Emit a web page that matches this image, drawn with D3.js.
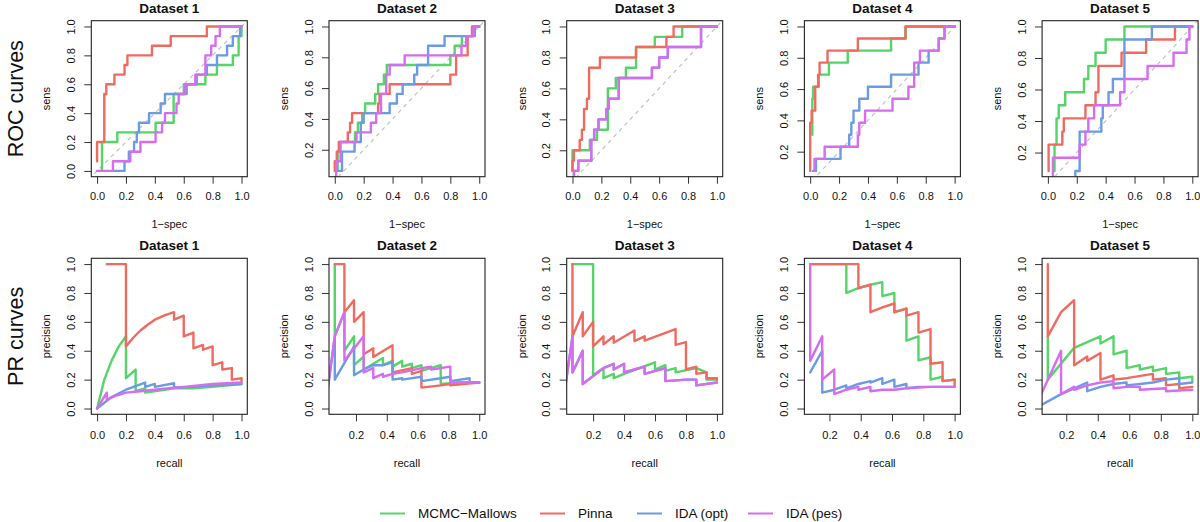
<!DOCTYPE html>
<html><head><meta charset="utf-8">
<script src="https://cdn.jsdelivr.net/npm/d3@7"></script>
<style>body{margin:0;background:#fff} svg{display:block} text{font-family:"Liberation Sans",Arial,Helvetica,sans-serif}</style>
</head><body><svg id="c" width="1200" height="522"></svg>
<script>
// ---------------- data ----------------
const methods = ["MCMC\u2212Mallows", "Pinna", "IDA (opt)", "IDA (pes)"];
const colors = ["#55D468", "#EF6B5F", "#6C9BE6", "#D66CF0"];
const datasetNames = ["Dataset 1", "Dataset 2", "Dataset 3", "Dataset 4", "Dataset 5"];
const rowLabels = ["ROC curves", "PR curves"];
const rocAxisLabels = ["1\u2212spec", "sens"];
const prAxisLabels = ["recall", "precision"];
// lower data limit of sens (ROC) / recall (PR) per dataset
const dataMin = [0, 1/16, 1/15, 1/13, 1/12];
const ticksFull = [0, 0.2, 0.4, 0.6, 0.8, 1.0];
const ticksFrom02 = [0.2, 0.4, 0.6, 0.8, 1.0];

// ROC curves: step corners [1-spec, sens]
const roc1Mcmc = [[0.034,0],[0.034,0.2],[0.14,0.267],[0.405,0.333],[0.53,0.533],[0.6,0.6],[0.75,0.667],[0.83,0.733],[0.94,0.8],[0.98,0.933],[1,1]];
const roc1Pinna = [[0,0.067],[0,0.2],[0.05,0.533],[0.064,0.6],[0.12,0.667],[0.19,0.733],[0.21,0.8],[0.38,0.867],[0.51,0.933],[0.76,1],[1,1]];
const roc1IdaOpt = [[0.11,0],[0.19,0.067],[0.22,0.133],[0.256,0.2],[0.275,0.267],[0.29,0.333],[0.36,0.4],[0.44,0.467],[0.47,0.533],[0.62,0.6],[0.69,0.667],[0.76,0.733],[0.83,0.8],[0.9,0.867],[0.94,0.933],[0.99,1],[1,1]];
const roc1IdaPes = [[0,0],[0.11,0.067],[0.23,0.133],[0.3,0.2],[0.405,0.267],[0.45,0.333],[0.47,0.4],[0.55,0.467],[0.565,0.533],[0.61,0.6],[0.68,0.667],[0.75,0.8],[0.79,0.867],[0.82,0.933],[0.85,1],[1,1]];

const roc2Mcmc = [[0.02,0.0625],[0.02,0.1875],[0.035,0.25],[0.14,0.3125],[0.16,0.375],[0.19,0.4375],[0.21,0.5],[0.28,0.5625],[0.3,0.625],[0.34,0.6875],[0.36,0.75],[0.8,0.8125],[0.83,0.875],[0.88,0.9375],[0.96,1],[1,1]];
const roc2Pinna = [[0,0.0625],[0,0.125],[0.014,0.1875],[0.028,0.25],[0.09,0.3125],[0.106,0.375],[0.12,0.4375],[0.3,0.5],[0.31,0.5625],[0.38,0.625],[0.8,0.6875],[0.84,0.8125],[0.92,0.9375],[0.95,1],[1,1]];
const roc2IdaOpt = [[0.01,0.0625],[0.05,0.1875],[0.137,0.25],[0.18,0.375],[0.2,0.4375],[0.38,0.5],[0.43,0.5625],[0.47,0.625],[0.55,0.6875],[0.57,0.75],[0.646,0.875],[0.76,0.9375],[0.97,1],[1,1]];
const roc2IdaPes = [[0.01,0],[0.01,0.125],[0.04,0.25],[0.15,0.3125],[0.25,0.375],[0.287,0.4375],[0.32,0.5625],[0.356,0.6875],[0.38,0.75],[0.484,0.8125],[0.877,0.875],[0.91,0.9375],[0.96,1],[1,1]];

const roc3Mcmc = [[0,0.0667],[0,0.2],[0.12,0.267],[0.17,0.333],[0.245,0.6],[0.3,0.667],[0.37,0.733],[0.44,0.867],[0.57,0.933],[0.76,1],[1,1]];
const roc3Pinna = [[0,0.0667],[0,0.133],[0.01,0.2],[0.05,0.267],[0.065,0.333],[0.08,0.467],[0.1,0.533],[0.115,0.733],[0.19,0.8],[0.44,0.867],[0.65,0.933],[0.7,1],[1,1]];
const roc3IdaOpt = [[0.01,0],[0.01,0.0667],[0.04,0.133],[0.13,0.267],[0.15,0.333],[0.18,0.4],[0.235,0.467],[0.25,0.533],[0.32,0.667],[0.55,0.733],[0.6,0.8],[0.66,0.867],[0.89,1],[1,1]];
const roc3IdaPes = [[0.01,0],[0.01,0.0667],[0.04,0.133],[0.13,0.267],[0.15,0.333],[0.18,0.4],[0.235,0.467],[0.25,0.533],[0.32,0.667],[0.55,0.733],[0.6,0.8],[0.66,0.867],[0.89,1],[1,1]];

const roc4Mcmc = [[0.015,0.308],[0.015,0.538],[0.02,0.615],[0.06,0.692],[0.13,0.769],[0.26,0.846],[0.56,0.923],[0.66,1],[1,1]];
const roc4Pinna = [[0,0.077],[0,0.385],[0.01,0.462],[0.035,0.615],[0.055,0.692],[0.065,0.769],[0.12,0.846],[0.33,0.923],[0.66,1],[1,1]];
const roc4IdaOpt = [[0.02,0.077],[0.04,0.154],[0.21,0.231],[0.27,0.308],[0.285,0.385],[0.3,0.462],[0.34,0.538],[0.4,0.615],[0.56,0.692],[0.75,0.769],[0.82,0.846],[0.89,0.923],[0.93,1],[1,1]];
const roc4IdaPes = [[0.03,0.077],[0.03,0.154],[0.1,0.231],[0.33,0.308],[0.34,0.385],[0.38,0.462],[0.57,0.538],[0.68,0.615],[0.72,0.769],[0.76,0.846],[0.89,0.923],[0.93,1],[1,1]];

const roc5Mcmc = [[0.046,0.083],[0.046,0.25],[0.06,0.417],[0.075,0.5],[0.12,0.583],[0.25,0.667],[0.28,0.75],[0.33,0.833],[0.4,0.917],[0.53,1],[1,1]];
const roc5Pinna = [[0.005,0.083],[0.005,0.25],[0.1,0.333],[0.11,0.417],[0.26,0.5],[0.33,0.583],[0.35,0.75],[0.51,0.833],[0.68,0.917],[0.88,1],[1,1]];
const roc5IdaOpt = [[0.19,0],[0.19,0.083],[0.22,0.333],[0.37,0.417],[0.38,0.5],[0.42,0.583],[0.45,0.667],[0.53,0.917],[0.72,1],[1,1]];
const roc5IdaPes = [[0.035,0],[0.035,0.167],[0.22,0.25],[0.26,0.333],[0.28,0.417],[0.32,0.5],[0.5,0.583],[0.53,0.667],[0.69,0.75],[0.87,0.833],[0.96,0.917],[0.98,1],[1,1]];

// PR curves: vertices [recall, precision]
const pr1Mcmc = [[0,0],[0.05,0.2],[0.1,0.33],[0.15,0.43],[0.2,0.5],[0.2,0.21],[0.267,0.27],[0.267,0.12],[0.333,0.14],[0.333,0.11],[0.467,0.13],[0.533,0.14],[0.667,0.14],[0.8,0.15],[1,0.17]];
const pr1Pinna = [[0.067,1],[0.2,1],[0.2,0.43],[0.25,0.49],[0.3,0.54],[0.35,0.58],[0.4,0.615],[0.467,0.645],[0.533,0.667],[0.533,0.615],[0.6,0.643],[0.6,0.5],[0.667,0.526],[0.667,0.417],[0.733,0.44],[0.733,0.407],[0.8,0.43],[0.8,0.3],[0.867,0.32],[0.867,0.27],[0.933,0.28],[0.933,0.2],[1,0.21],[1,0.19]];
const pr1IdaOpt = [[0,0],[0.1,0.08],[0.2,0.13],[0.333,0.18],[0.333,0.15],[0.4,0.17],[0.4,0.15],[0.533,0.175],[0.533,0.145],[0.667,0.15],[0.8,0.16],[1,0.17]];
const pr1IdaPes = [[0,0],[0.067,0.11],[0.067,0.06],[0.133,0.09],[0.2,0.11],[0.3,0.12],[0.4,0.13],[0.5,0.14],[0.6,0.15],[0.7,0.16],[0.8,0.17],[0.9,0.175],[1,0.18]];

const pr2Mcmc = [[0.0625,1],[0.0625,0.5],[0.125,0.667],[0.125,0.4],[0.1875,0.5],[0.1875,0.3],[0.25,0.36],[0.25,0.27],[0.3125,0.31],[0.375,0.35],[0.375,0.3],[0.4375,0.33],[0.4375,0.29],[0.5,0.33],[0.5,0.29],[0.5625,0.31],[0.5625,0.28],[0.625,0.3],[0.625,0.26],[0.75,0.3],[0.75,0.17],[0.875,0.18],[1,0.18]];
const pr2Pinna = [[0.0625,1],[0.125,1],[0.125,0.667],[0.1875,0.75],[0.1875,0.6],[0.25,0.667],[0.25,0.375],[0.3125,0.417],[0.3125,0.357],[0.4375,0.4375],[0.4375,0.25],[0.5625,0.28],[0.5625,0.24],[0.625,0.26],[0.625,0.145],[0.75,0.16],[0.8125,0.17],[0.8125,0.16],[1,0.18]];
const pr2IdaOpt = [[0,0],[0.0625,0.5],[0.0625,0.2],[0.1875,0.43],[0.1875,0.23],[0.25,0.27],[0.3125,0.3],[0.375,0.3],[0.4375,0.32],[0.4375,0.2],[0.5,0.21],[0.5,0.2],[0.625,0.22],[0.625,0.19],[0.75,0.21],[0.8125,0.22],[0.8125,0.19],[0.9375,0.21],[0.9375,0.18],[1,0.18]];
const pr2IdaPes = [[0,0],[0.0625,0.5],[0.125,0.667],[0.125,0.33],[0.25,0.5],[0.25,0.25],[0.3125,0.28],[0.3125,0.21],[0.375,0.24],[0.375,0.22],[0.4375,0.24],[0.5,0.25],[0.625,0.28],[0.6875,0.29],[0.6875,0.27],[0.8125,0.29],[0.8125,0.18],[1,0.18]];

const pr3Mcmc = [[0.0667,1],[0.2,1],[0.2,0.23],[0.267,0.28],[0.267,0.21],[0.333,0.24],[0.333,0.21],[0.4,0.24],[0.6,0.32],[0.6,0.27],[0.667,0.3],[0.667,0.26],[0.733,0.28],[0.733,0.25],[0.867,0.28],[0.933,0.25],[0.933,0.2],[1,0.2]];
const pr3Pinna = [[0.0667,1],[0.0667,0.5],[0.133,0.667],[0.133,0.5],[0.2,0.6],[0.2,0.43],[0.267,0.5],[0.267,0.444],[0.333,0.5],[0.333,0.455],[0.467,0.54],[0.467,0.467],[0.533,0.5],[0.533,0.47],[0.733,0.55],[0.733,0.44],[0.8,0.46],[0.8,0.27],[0.867,0.29],[0.867,0.24],[0.933,0.25],[0.933,0.21],[1,0.21],[1,0.2]];
const pr3IdaOpt = [[0,0],[0.0667,0.5],[0.0667,0.25],[0.133,0.4],[0.133,0.17],[0.267,0.28],[0.333,0.31],[0.333,0.27],[0.4,0.31],[0.4,0.25],[0.467,0.27],[0.533,0.29],[0.533,0.24],[0.667,0.28],[0.667,0.19],[0.8,0.2],[0.867,0.2],[0.867,0.16],[1,0.18]];
const pr3IdaPes = [[0,0],[0.0667,0.5],[0.0667,0.25],[0.133,0.4],[0.133,0.17],[0.267,0.28],[0.333,0.31],[0.333,0.27],[0.4,0.31],[0.4,0.25],[0.467,0.27],[0.533,0.29],[0.533,0.24],[0.667,0.28],[0.667,0.19],[0.8,0.2],[0.867,0.2],[0.867,0.16],[1,0.18]];

const pr4Mcmc = [[0.077,1],[0.308,1],[0.308,0.8],[0.385,0.833],[0.462,0.857],[0.538,0.875],[0.538,0.778],[0.615,0.8],[0.615,0.667],[0.692,0.692],[0.692,0.47],[0.769,0.5],[0.769,0.333],[0.846,0.355],[0.846,0.2],[0.923,0.22],[0.923,0.19],[1,0.2]];
const pr4Pinna = [[0.077,1],[0.385,1],[0.385,0.833],[0.462,0.857],[0.462,0.667],[0.538,0.7],[0.615,0.727],[0.615,0.667],[0.692,0.692],[0.692,0.643],[0.769,0.667],[0.769,0.526],[0.846,0.55],[0.846,0.31],[0.923,0.32],[0.923,0.19],[1,0.2],[1,0.15]];
const pr4IdaOpt = [[0.077,0.25],[0.154,0.4],[0.154,0.11],[0.231,0.13],[0.308,0.16],[0.308,0.14],[0.385,0.17],[0.462,0.19],[0.462,0.18],[0.538,0.21],[0.538,0.17],[0.615,0.2],[0.615,0.15],[0.692,0.17],[0.692,0.14],[0.769,0.15],[0.846,0.15],[1,0.15]];
const pr4IdaPes = [[0.077,1],[0.077,0.33],[0.154,0.5],[0.154,0.2],[0.231,0.27],[0.231,0.1],[0.308,0.13],[0.385,0.15],[0.385,0.13],[0.462,0.15],[0.462,0.12],[0.538,0.13],[0.615,0.13],[0.692,0.14],[0.846,0.15],[1,0.15]];

const pr5Mcmc = [[0.083,0.5],[0.083,0.2],[0.25,0.42],[0.417,0.5],[0.417,0.45],[0.5,0.5],[0.5,0.375],[0.583,0.4],[0.583,0.28],[0.667,0.3],[0.667,0.27],[0.75,0.29],[0.75,0.26],[0.833,0.28],[0.833,0.24],[0.917,0.25],[0.917,0.21],[1,0.22],[1,0.19]];
const pr5Pinna = [[0.083,1],[0.083,0.5],[0.167,0.667],[0.25,0.75],[0.25,0.3],[0.333,0.36],[0.333,0.33],[0.417,0.385],[0.417,0.2],[0.5,0.23],[0.5,0.2],[0.583,0.21],[0.75,0.24],[0.75,0.2],[0.833,0.21],[0.833,0.16],[0.917,0.17],[0.917,0.14],[1,0.15]];
const pr5IdaOpt = [[0,0],[0.167,0.1],[0.25,0.14],[0.333,0.18],[0.333,0.12],[0.417,0.15],[0.5,0.17],[0.583,0.18],[0.583,0.16],[0.667,0.17],[0.75,0.18],[0.833,0.2],[0.917,0.21],[0.917,0.17],[1,0.18]];
const pr5IdaPes = [[0,0],[0.167,0.4],[0.167,0.1],[0.25,0.15],[0.25,0.13],[0.333,0.16],[0.417,0.18],[0.5,0.19],[0.5,0.14],[0.583,0.15],[0.667,0.15],[0.667,0.13],[0.833,0.14],[0.833,0.12],[1,0.13]];

const rocSeries = [
  [roc1Mcmc, roc1Pinna, roc1IdaOpt, roc1IdaPes],
  [roc2Mcmc, roc2Pinna, roc2IdaOpt, roc2IdaPes],
  [roc3Mcmc, roc3Pinna, roc3IdaOpt, roc3IdaPes],
  [roc4Mcmc, roc4Pinna, roc4IdaOpt, roc4IdaPes],
  [roc5Mcmc, roc5Pinna, roc5IdaOpt, roc5IdaPes]];
const prSeries = [
  [pr1Mcmc, pr1Pinna, pr1IdaOpt, pr1IdaPes],
  [pr2Mcmc, pr2Pinna, pr2IdaOpt, pr2IdaPes],
  [pr3Mcmc, pr3Pinna, pr3IdaOpt, pr3IdaPes],
  [pr4Mcmc, pr4Pinna, pr4IdaOpt, pr4IdaPes],
  [pr5Mcmc, pr5Pinna, pr5IdaOpt, pr5IdaPes]];

// ---------------- layout ----------------
const W = 156, H = 156;
const colX = i => 91.3 + i * 237.7;
const rowY = [20.7, 258.3];
const svg = d3.select("#c");
const fmt = d3.format(".1f");

function drawPanel(row, i, series, xDom, yDom, xTicks, yTicks, curve, labels, diag, xLabOff, xTitleOff) {
  const x0 = colX(i), y0 = rowY[row];
  const px = 0.04 * (xDom[1] - xDom[0]), py = 0.04 * (yDom[1] - yDom[0]);
  const xs = d3.scaleLinear().domain([xDom[0] - px, xDom[1] + px]).range([0, W]);
  const ys = d3.scaleLinear().domain([yDom[0] - py, yDom[1] + py]).range([H, 0]);
  const g = svg.append("g").attr("transform", `translate(${x0},${y0})`);
  const id = `clip${row}_${i}`;
  g.append("clipPath").attr("id", id).append("rect").attr("width", W).attr("height", H);
  const plot = g.append("g").attr("clip-path", `url(#${id})`);
  if (diag) {
    plot.append("line")
      .attr("x1", xs(-1)).attr("y1", ys(-1)).attr("x2", xs(2)).attr("y2", ys(2))
      .attr("stroke", "#BDBDBD").attr("stroke-width", 1.1).attr("stroke-dasharray", "4,4");
  }
  const line = d3.line().x(d => xs(d[0])).y(d => ys(d[1])).curve(curve);
  series.forEach((s, k) => {
    plot.append("path").datum(s).attr("d", line)
      .attr("fill", "none").attr("stroke", colors[k]).attr("stroke-width", 2.4)
      .attr("stroke-linejoin", "round").attr("stroke-linecap", "round");
  });
  // x axis
  const gx = g.append("g").attr("transform", `translate(0,${H})`)
    .call(d3.axisBottom(xs).tickValues(xTicks).tickSize(7).tickPadding(xLabOff).tickFormat(fmt));
  gx.select(".domain").remove();
  gx.attr("font-family", null).attr("font-size", null);
  gx.selectAll("line").attr("stroke", "#333").attr("stroke-width", 1);
  gx.selectAll("text").attr("font-size", 11).attr("fill", "#111");
  // y axis
  const gy = g.append("g").call(d3.axisLeft(ys).tickValues(yTicks).tickSize(7).tickFormat(fmt));
  gy.select(".domain").remove();
  gy.attr("font-family", null).attr("font-size", null);
  gy.selectAll("line").attr("stroke", "#333").attr("stroke-width", 1);
  gy.selectAll("text").attr("x", null).attr("dy", null)
    .attr("transform", "translate(-16.3,0) rotate(-90)")
    .attr("text-anchor", "middle").attr("font-size", 11).attr("fill", "#111");
  // box
  g.append("rect").attr("width", W).attr("height", H)
    .attr("fill", "none").attr("stroke", "#222").attr("stroke-width", 1.1);
  // title
  g.append("text").attr("x", W / 2).attr("y", -8).attr("text-anchor", "middle")
    .attr("font-weight", "bold").attr("font-size", 13.5).attr("fill", "#111")
    .text(datasetNames[i]);
  // axis titles
  g.append("text").attr("x", W / 2).attr("y", H + xTitleOff).attr("text-anchor", "middle")
    .attr("font-size", 11).attr("fill", "#111").text(labels[0]);
  g.append("text").attr("transform", `translate(-41,${H / 2}) rotate(-90)`)
    .attr("text-anchor", "middle").attr("font-size", 11).attr("fill", "#111").text(labels[1]);
}

for (let i = 0; i < 5; i++) {
  drawPanel(0, i, rocSeries[i], [0, 1], [dataMin[i], 1], ticksFull,
    i === 0 ? ticksFull : ticksFrom02, d3.curveStepAfter, rocAxisLabels, true, 9, 51.5);
  drawPanel(1, i, prSeries[i], [dataMin[i], 1], [0, 1],
    i === 0 ? ticksFull : ticksFrom02, ticksFull, d3.curveLinear, prAxisLabels, false, 10, 52.7);
}

// row labels
rowLabels.forEach((t, r) => {
  svg.append("text").attr("transform", `translate(23,${rowY[r] + H / 2}) rotate(-90)`)
    .attr("text-anchor", "middle").attr("font-size", 21.5).attr("fill", "#111").text(t);
});

// legend
const legendX = [380, 540, 637, 748];
const legY = 513.5;
methods.forEach((m, k) => {
  svg.append("line").attr("x1", legendX[k]).attr("x2", legendX[k] + 25)
    .attr("y1", legY).attr("y2", legY).attr("stroke", colors[k]).attr("stroke-width", 2);
  svg.append("text").attr("x", legendX[k] + 38).attr("y", legY + 4.8)
    .attr("font-size", 13.5).attr("fill", "#111").text(m);
});
</script></body></html>
